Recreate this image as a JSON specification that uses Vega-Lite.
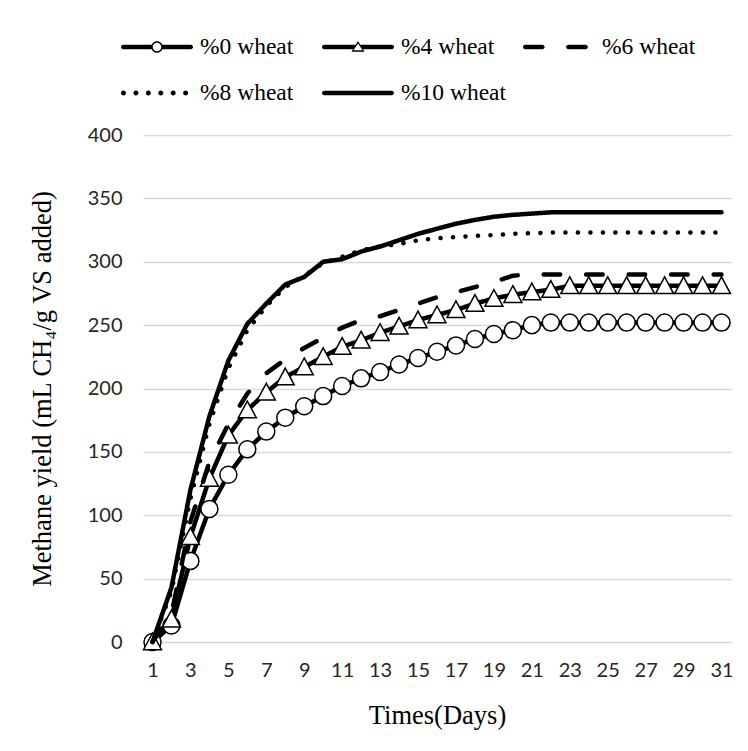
{
  "$schema": "https://vega.github.io/schema/vega-lite/v6.json",
  "autosize": {"type": "none"},
  "padding": {"left": 143, "top": 135, "right": 17, "bottom": 109},
  "width": 588,
  "height": 507,
  "background": "white",
  "config": {"view": {"stroke": null}},
  "data": {"values": [
    {"day":1,"series":"%0 wheat","value":0},{"day":2,"series":"%0 wheat","value":13},{"day":3,"series":"%0 wheat","value":64},{"day":4,"series":"%0 wheat","value":105},{"day":5,"series":"%0 wheat","value":132},{"day":6,"series":"%0 wheat","value":152},{"day":7,"series":"%0 wheat","value":166},{"day":8,"series":"%0 wheat","value":177},{"day":9,"series":"%0 wheat","value":186},{"day":10,"series":"%0 wheat","value":194},{"day":11,"series":"%0 wheat","value":202},{"day":12,"series":"%0 wheat","value":208},{"day":13,"series":"%0 wheat","value":213},{"day":14,"series":"%0 wheat","value":219},{"day":15,"series":"%0 wheat","value":224},{"day":16,"series":"%0 wheat","value":229},{"day":17,"series":"%0 wheat","value":234},{"day":18,"series":"%0 wheat","value":239},{"day":19,"series":"%0 wheat","value":243},{"day":20,"series":"%0 wheat","value":246},{"day":21,"series":"%0 wheat","value":250},{"day":22,"series":"%0 wheat","value":252},{"day":23,"series":"%0 wheat","value":252},{"day":24,"series":"%0 wheat","value":252},{"day":25,"series":"%0 wheat","value":252},{"day":26,"series":"%0 wheat","value":252},{"day":27,"series":"%0 wheat","value":252},{"day":28,"series":"%0 wheat","value":252},{"day":29,"series":"%0 wheat","value":252},{"day":30,"series":"%0 wheat","value":252},{"day":31,"series":"%0 wheat","value":252},
    {"day":1,"series":"%4 wheat","value":0},{"day":2,"series":"%4 wheat","value":18},{"day":3,"series":"%4 wheat","value":83},{"day":4,"series":"%4 wheat","value":129},{"day":5,"series":"%4 wheat","value":163},{"day":6,"series":"%4 wheat","value":183},{"day":7,"series":"%4 wheat","value":197},{"day":8,"series":"%4 wheat","value":209},{"day":9,"series":"%4 wheat","value":217},{"day":10,"series":"%4 wheat","value":225},{"day":11,"series":"%4 wheat","value":233},{"day":12,"series":"%4 wheat","value":238},{"day":13,"series":"%4 wheat","value":244},{"day":14,"series":"%4 wheat","value":249},{"day":15,"series":"%4 wheat","value":254},{"day":16,"series":"%4 wheat","value":258},{"day":17,"series":"%4 wheat","value":262},{"day":18,"series":"%4 wheat","value":267},{"day":19,"series":"%4 wheat","value":271},{"day":20,"series":"%4 wheat","value":274},{"day":21,"series":"%4 wheat","value":276},{"day":22,"series":"%4 wheat","value":278},{"day":23,"series":"%4 wheat","value":281},{"day":24,"series":"%4 wheat","value":281},{"day":25,"series":"%4 wheat","value":281},{"day":26,"series":"%4 wheat","value":281},{"day":27,"series":"%4 wheat","value":281},{"day":28,"series":"%4 wheat","value":281},{"day":29,"series":"%4 wheat","value":281},{"day":30,"series":"%4 wheat","value":281},{"day":31,"series":"%4 wheat","value":281},
    {"day":1,"series":"%6 wheat","value":0},{"day":2,"series":"%6 wheat","value":22},{"day":3,"series":"%6 wheat","value":95},{"day":4,"series":"%6 wheat","value":142},{"day":5,"series":"%6 wheat","value":172},{"day":6,"series":"%6 wheat","value":196},{"day":7,"series":"%6 wheat","value":212},{"day":8,"series":"%6 wheat","value":223},{"day":9,"series":"%6 wheat","value":232},{"day":10,"series":"%6 wheat","value":240},{"day":11,"series":"%6 wheat","value":248},{"day":12,"series":"%6 wheat","value":254},{"day":13,"series":"%6 wheat","value":257},{"day":14,"series":"%6 wheat","value":262},{"day":15,"series":"%6 wheat","value":267},{"day":16,"series":"%6 wheat","value":272},{"day":17,"series":"%6 wheat","value":276},{"day":18,"series":"%6 wheat","value":280},{"day":19,"series":"%6 wheat","value":284},{"day":20,"series":"%6 wheat","value":289},{"day":21,"series":"%6 wheat","value":290},{"day":22,"series":"%6 wheat","value":290},{"day":23,"series":"%6 wheat","value":290},{"day":24,"series":"%6 wheat","value":290},{"day":25,"series":"%6 wheat","value":290},{"day":26,"series":"%6 wheat","value":290},{"day":27,"series":"%6 wheat","value":290},{"day":28,"series":"%6 wheat","value":290},{"day":29,"series":"%6 wheat","value":290},{"day":30,"series":"%6 wheat","value":290},{"day":31,"series":"%6 wheat","value":290},
    {"day":1,"series":"%8 wheat","value":0},{"day":2,"series":"%8 wheat","value":40},{"day":3,"series":"%8 wheat","value":113},{"day":4,"series":"%8 wheat","value":172},{"day":5,"series":"%8 wheat","value":216},{"day":6,"series":"%8 wheat","value":246},{"day":7,"series":"%8 wheat","value":265},{"day":8,"series":"%8 wheat","value":280},{"day":9,"series":"%8 wheat","value":289},{"day":10,"series":"%8 wheat","value":299},{"day":11,"series":"%8 wheat","value":304},{"day":12,"series":"%8 wheat","value":309},{"day":13,"series":"%8 wheat","value":312},{"day":14,"series":"%8 wheat","value":314},{"day":15,"series":"%8 wheat","value":317},{"day":16,"series":"%8 wheat","value":318.5},{"day":17,"series":"%8 wheat","value":319.5},{"day":18,"series":"%8 wheat","value":320.5},{"day":19,"series":"%8 wheat","value":321},{"day":20,"series":"%8 wheat","value":322},{"day":21,"series":"%8 wheat","value":322.5},{"day":22,"series":"%8 wheat","value":323},{"day":23,"series":"%8 wheat","value":323},{"day":24,"series":"%8 wheat","value":323},{"day":25,"series":"%8 wheat","value":323},{"day":26,"series":"%8 wheat","value":323},{"day":27,"series":"%8 wheat","value":323},{"day":28,"series":"%8 wheat","value":323},{"day":29,"series":"%8 wheat","value":323},{"day":30,"series":"%8 wheat","value":323},{"day":31,"series":"%8 wheat","value":323},
    {"day":1,"series":"%10 wheat","value":0},{"day":2,"series":"%10 wheat","value":43},{"day":3,"series":"%10 wheat","value":120},{"day":4,"series":"%10 wheat","value":178},{"day":5,"series":"%10 wheat","value":222},{"day":6,"series":"%10 wheat","value":251},{"day":7,"series":"%10 wheat","value":267},{"day":8,"series":"%10 wheat","value":282},{"day":9,"series":"%10 wheat","value":288},{"day":10,"series":"%10 wheat","value":300},{"day":11,"series":"%10 wheat","value":302},{"day":12,"series":"%10 wheat","value":308},{"day":13,"series":"%10 wheat","value":312},{"day":14,"series":"%10 wheat","value":317},{"day":15,"series":"%10 wheat","value":322},{"day":16,"series":"%10 wheat","value":326},{"day":17,"series":"%10 wheat","value":330},{"day":18,"series":"%10 wheat","value":333},{"day":19,"series":"%10 wheat","value":335.5},{"day":20,"series":"%10 wheat","value":337},{"day":21,"series":"%10 wheat","value":338},{"day":22,"series":"%10 wheat","value":339},{"day":23,"series":"%10 wheat","value":339},{"day":24,"series":"%10 wheat","value":339},{"day":25,"series":"%10 wheat","value":339},{"day":26,"series":"%10 wheat","value":339},{"day":27,"series":"%10 wheat","value":339},{"day":28,"series":"%10 wheat","value":339},{"day":29,"series":"%10 wheat","value":339},{"day":30,"series":"%10 wheat","value":339},{"day":31,"series":"%10 wheat","value":339}
  ]},
  "encoding": {
    "x": {
      "field": "day", "type": "ordinal",
      "scale": {"type": "point", "padding": 0.5},
      "axis": {
        "title": "Times(Days)", "values": [1,3,5,7,9,11,13,15,17,19,21,23,25,27,29,31],
        "labelAngle": 0, "domain": false, "ticks": false, "grid": false,
        "labelFont": "Lato", "labelFontSize": 20, "labelColor": "#262626", "labelPadding": 18.5,
        "titleFont": "Liberation Serif", "titleFontSize": 26.5, "titleFontWeight": "normal", "titleColor": "black", "titlePadding": 21.5
      }
    },
    "y": {
      "field": "value", "type": "quantitative",
      "scale": {"domain": [0, 400], "nice": false, "zero": true},
      "axis": {
        "title": "Methane yield (mL CH₄/g VS added)", "values": [0,50,100,150,200,250,300,350,400],
        "domain": false, "ticks": false, "grid": true, "gridColor": "#d9d9d9", "gridWidth": 1.3,
        "labelFont": "Lato", "labelFontSize": 20, "labelColor": "#262626", "labelPadding": 21,
        "titleFont": "Liberation Serif", "titleFontSize": 26.5, "titleFontWeight": "normal", "titleColor": "black", "titlePadding": 31
      }
    }
  },
  "layer": [
    {
      "transform": [{"filter": {"field": "series", "oneOf": ["%0 wheat", "%4 wheat"]}}],
      "mark": {"type": "line", "color": "black", "strokeWidth": 4.5, "strokeCap": "round", "strokeJoin": "round"},
      "encoding": {
        "strokeDash": {
          "field": "series", "type": "nominal", "legend": null,
          "scale": {"domain": ["%10 wheat", "%8 wheat", "%6 wheat", "%4 wheat", "%0 wheat"], "range": [[1,0],[0.1,12.4],[16.5,26],[1,0],[1,0]]}
        }
      }
    },
    {
      "transform": [{"filter": {"field": "series", "equal": "%0 wheat"}}],
      "mark": {"type": "point", "shape": "M-0.1325,0A0.1325,0.1325,0,1,1,0.1325,0A0.1325,0.1325,0,1,1,-0.1325,0Z", "filled": true, "fill": "white", "stroke": "black", "strokeWidth": 1.5, "size": 16464, "opacity": 1}
    },
    {
      "transform": [{"filter": {"field": "series", "equal": "%4 wheat"}}],
      "mark": {"type": "point", "shape": "M0,-0.14L0.14,0.12L-0.14,0.12Z", "filled": true, "fill": "white", "stroke": "black", "strokeWidth": 1.5, "size": 16464, "opacity": 1}
    },
    {
      "transform": [{"filter": {"field": "series", "oneOf": ["%6 wheat", "%8 wheat", "%10 wheat"]}}],
      "mark": {"type": "line", "color": "black", "strokeWidth": 4.5, "strokeCap": "round", "strokeJoin": "round"},
      "encoding": {
        "strokeDash": {"field": "series", "type": "nominal", "legend": null}
      }
    },
    {
      "transform": [{"filter": {"field": "day", "equal": 1}}],
      "mark": {"type": "point", "filled": true, "color": "black", "size": 0},
      "encoding": {
        "shape": {
          "field": "series", "type": "nominal",
          "scale": {
            "domain": ["%0 wheat", "%4 wheat", "%6 wheat", "%8 wheat", "%10 wheat"],
            "range": [
              "M-0.9375,-0.0625H-0.14V0.0625H-0.9375A0.0625,0.0625,0,0,1,-0.9375,-0.0625ZM0.14,-0.0625H0.9375A0.0625,0.0625,0,0,1,0.9375,0.0625H0.14ZM0.1597,0A0.1597,0.1597,0,1,1,-0.1597,0A0.1597,0.1597,0,1,1,0.1597,0ZM0.118,0A0.118,0.118,0,1,0,-0.118,0A0.118,0.118,0,1,0,0.118,0Z",
              "M-0.9375,-0.0625H-0.0444L-0.125,0.0625H-0.9375A0.0625,0.0625,0,0,1,-0.9375,-0.0625ZM0.0444,-0.0625H0.9375A0.0625,0.0625,0,0,1,0.9375,0.0625H0.125ZM0,-0.1667L0.1806,0.1306L-0.1806,0.1306ZM0,-0.1L-0.1278,0.0889L0.1278,0.0889Z",
              "M-0.9375,-0.0625H-0.4625A0.0625,0.0625,0,0,1,-0.4625,0.0625H-0.9375A0.0625,0.0625,0,0,1,-0.9375,-0.0625ZM0.2625,-0.0625H0.7375A0.0625,0.0625,0,0,1,0.7375,0.0625H0.2625A0.0625,0.0625,0,0,1,0.2625,-0.0625Z",
              "M-0.8606,0A0.0694,0.0694,0,1,1,-0.9994,0A0.0694,0.0694,0,1,1,-0.8606,0ZM-0.5156,0A0.0694,0.0694,0,1,1,-0.6544,0A0.0694,0.0694,0,1,1,-0.5156,0ZM-0.1706,0A0.0694,0.0694,0,1,1,-0.3094,0A0.0694,0.0694,0,1,1,-0.1706,0ZM0.1744,0A0.0694,0.0694,0,1,1,0.0356,0A0.0694,0.0694,0,1,1,0.1744,0ZM0.5194,0A0.0694,0.0694,0,1,1,0.3806,0A0.0694,0.0694,0,1,1,0.5194,0ZM0.8644,0A0.0694,0.0694,0,1,1,0.7256,0A0.0694,0.0694,0,1,1,0.8644,0Z",
              "M-0.9375,-0.0625H0.9375A0.0625,0.0625,0,0,1,0.9375,0.0625H-0.9375A0.0625,0.0625,0,0,1,-0.9375,-0.0625Z"
            ]
          },
          "legend": {
            "title": null, "orient": "none", "legendX": -22, "legendY": -101, "columns": 3, "direction": "horizontal",
            "symbolSize": 5184, "symbolStrokeWidth": 0, "symbolStrokeColor": "transparent", "symbolFillColor": "black", "symbolOpacity": 1,
            "labelFont": "Liberation Serif", "labelFontSize": 23.5, "labelColor": "black", "labelOffset": 7, "labelLimit": 0,
            "columnPadding": 16, "rowPadding": 20, "padding": 0, "clipHeight": 26, "gridAlign": "all"
          }
        }
      }
    }
  ]
}
